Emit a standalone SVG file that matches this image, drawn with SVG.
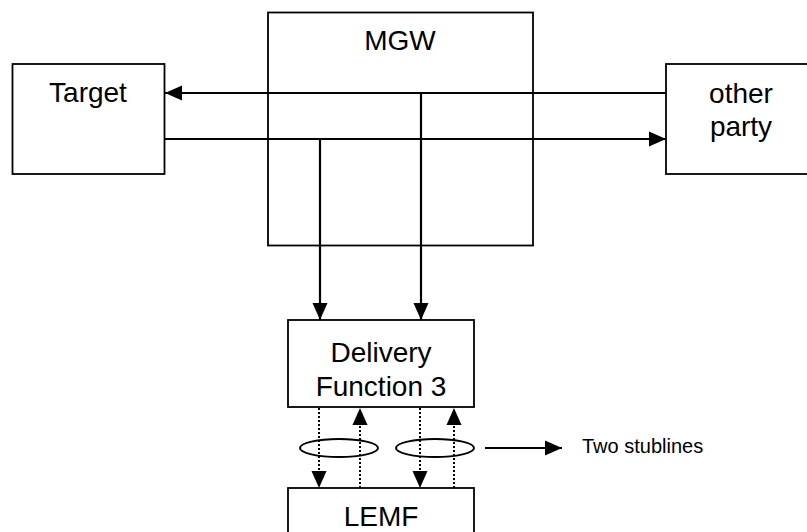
<svg xmlns="http://www.w3.org/2000/svg" width="807" height="532" viewBox="0 0 807 532">
  <style>
    .box { fill: #fff; stroke: #000; stroke-width: 1.8; }
    .lbl { font-family: "Liberation Sans", Arial, sans-serif; font-size: 28px; fill: #000; text-anchor: middle; }
    .note { font-family: "Liberation Sans", Arial, sans-serif; font-size: 20px; fill: #000; }
    .flow { fill: none; stroke: #000; stroke-width: 2.2; }
    .stub { fill: none; stroke: #000; stroke-width: 2; stroke-dasharray: 2 2; }
    .ring { fill: none; stroke: #000; stroke-width: 2; }
  </style>
  <defs>
    <marker id="head" markerUnits="userSpaceOnUse" markerWidth="17" markerHeight="17" viewBox="0 0 17 17" refX="17" refY="8.5" orient="auto">
      <path d="M0,1 L17,8.5 L0,16 Z" fill="#000"/>
    </marker>
  </defs>

  <rect width="807" height="532" fill="#fff"/>

  <g id="mgw">
    <rect class="box" x="268" y="12.5" width="265" height="233"/>
    <text class="lbl" x="400" y="50">MGW</text>
  </g>

  <g id="target">
    <rect class="box" x="12.5" y="64" width="152" height="110"/>
    <text class="lbl" x="88" y="102">Target</text>
  </g>

  <g id="other-party">
    <rect class="box" x="666" y="64" width="152" height="110"/>
    <text class="lbl" x="741" y="103">other</text>
    <text class="lbl" x="741" y="136">party</text>
  </g>

  <g id="df3">
    <rect class="box" x="288" y="320" width="186" height="87"/>
    <text class="lbl" x="381" y="362">Delivery</text>
    <text class="lbl" x="381" y="396">Function 3</text>
  </g>

  <g id="lemf">
    <rect class="box" x="288" y="488" width="186" height="60"/>
    <text class="lbl" x="381" y="526">LEMF</text>
  </g>

  <g id="connectors">
    <!-- bearer paths through the MGW -->
    <line class="flow" x1="666" y1="93" x2="165" y2="93" marker-end="url(#head)"/>
    <line class="flow" x1="164" y1="139" x2="666" y2="139" marker-end="url(#head)"/>
    <!-- copies towards DF3 -->
    <line class="flow" x1="320" y1="139" x2="320" y2="320" marker-end="url(#head)"/>
    <line class="flow" x1="421" y1="93" x2="421" y2="320" marker-end="url(#head)"/>
    <!-- stublines DF3 / LEMF -->
    <line class="stub" x1="319" y1="408" x2="319" y2="488" marker-end="url(#head)"/>
    <line class="stub" x1="360" y1="488" x2="360" y2="408" marker-end="url(#head)"/>
    <line class="stub" x1="420" y1="408" x2="420" y2="488" marker-end="url(#head)"/>
    <line class="stub" x1="454" y1="488" x2="454" y2="408" marker-end="url(#head)"/>
    <ellipse class="ring" cx="339" cy="448" rx="39" ry="9"/>
    <ellipse class="ring" cx="435" cy="448" rx="39" ry="9"/>
    <line class="flow" x1="485" y1="448" x2="562" y2="448" marker-end="url(#head)"/>
  </g>

  <g id="legend">
    <text class="note" x="582" y="453">Two stublines</text>
  </g>
</svg>
